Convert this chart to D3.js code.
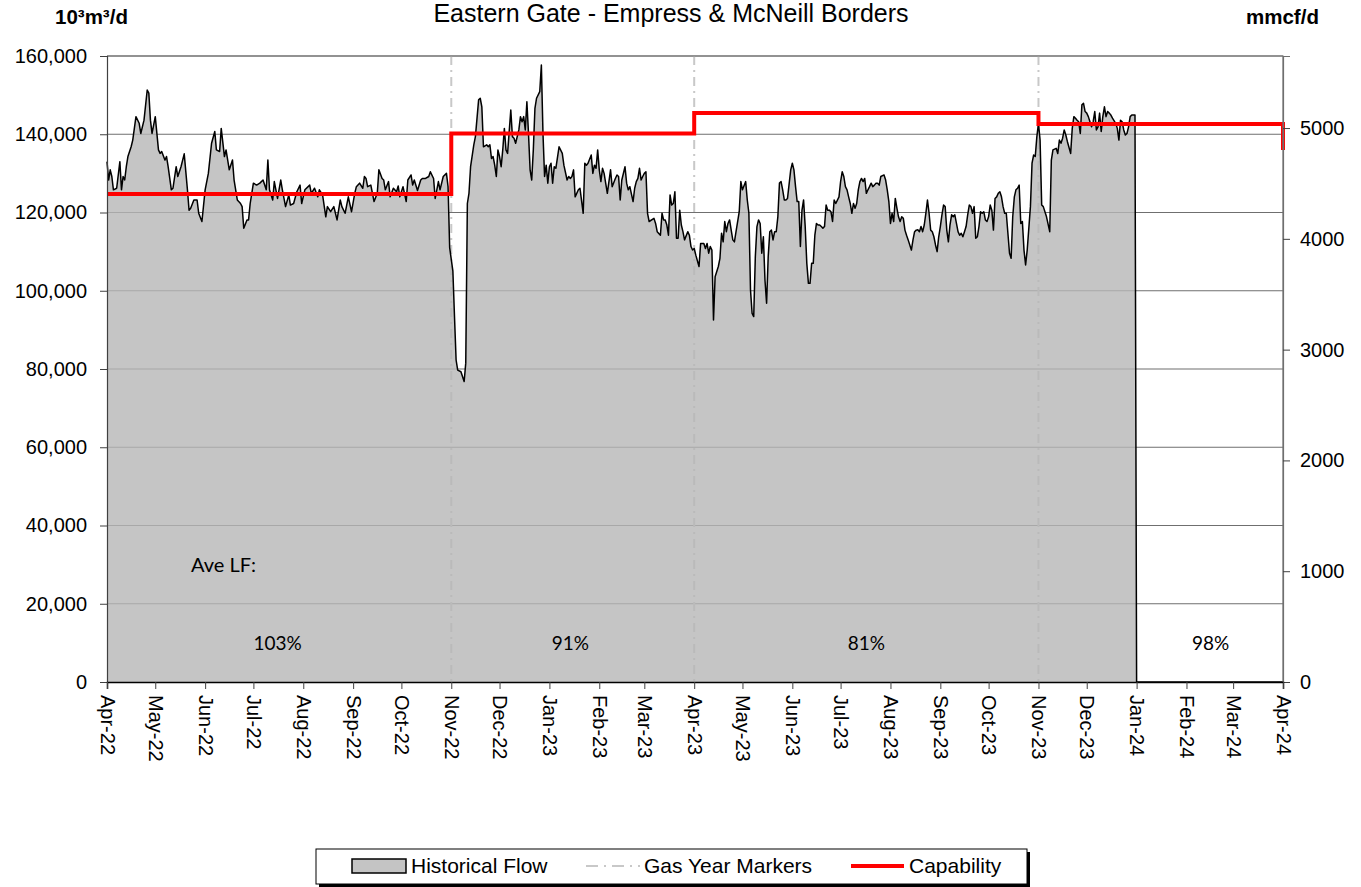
<!DOCTYPE html>
<html lang="en">
<head>
<meta charset="utf-8">
<title>Eastern Gate - Empress & McNeill Borders</title>
<script src="https://d3js.org/d3.v7.min.js"></script>
<style>
  body { margin: 0; background: #fff; }
  text { font-family: "Liberation Sans", Arial, sans-serif; }
</style>
</head>
<body>
<script>
// chart data
var startDate = "2022-04-01";   // day 0 of the flow series
var endDate = "2024-04-01";

// historical flow: [days since startDate, 10^3 m3/d]
var flow = [
  [0,133000],[1,128300],[2,130900],[3,129200],[4,125800],[6,126200],[8,133000],[9,125800],
  [10,129200],[11,128300],[12,131700],[13,134300],[15,136800],[16,138500],[18,144500],[20,142800],
  [21,140200],[23,143600],[25,151300],[26,150500],[27,143600],[28,140200],[30,144500],[32,136000],
  [33,135100],[34,135600],[36,133400],[37,134300],[38,131700],[40,125800],[41,126200],[43,131700],
  [44,129200],[46,131700],[48,135000],[50,125800],[51,120600],[52,121100],[54,123200],[56,123200],
  [57,119800],[59,117700],[61,125800],[63,130000],[65,137700],[67,140700],[68,136000],[70,135600],
  [71,141500],[73,134300],[74,136000],[76,130900],[78,133400],[79,128300],[81,123200],[83,122300],
  [84,121500],[85,116000],[87,118100],[88,118100],[89,122300],[91,127500],[93,127000],[95,127500],
  [97,128300],[99,125800],[100,133400],[101,125800],[103,123200],[104,127900],[106,123600],[108,128300],
  [109,125800],[111,121500],[113,124500],[114,121900],[116,122300],[118,125300],[120,127000],[121,122300],
  [123,125800],[126,127000],[127,124900],[129,126200],[131,124000],[132,125800],[134,124500],[136,118900],
  [137,121500],[139,120200],[141,121500],[142,119800],[143,118100],[145,123200],[146,121500],[148,119800],
  [150,124000],[152,120200],[154,124900],[155,126600],[157,127500],[159,126200],[160,129200],
  [161,128700],[162,126600],[164,127000],[166,122800],[168,124900],[169,130900],[171,128700],[172,128300],
  [173,125800],[175,127900],[176,124000],[178,126200],[180,125300],[181,126800],[182,124000],[184,126600],
  [186,122800],[187,128300],[189,129600],[190,127000],[191,128300],[193,125600],[195,128300],[196,128700],
  [198,128700],[200,129200],[201,130400],[203,128700],[204,123600],[206,127900],[207,125800],[209,129200],
  [211,130000],[212,126600],[213,111000],[215,105000],[216,93400],[217,82300],[218,79700],[220,79300],
  [222,76800],[223,81500],[224,122300],[225,124900],[226,131700],[228,137300],[229,139400],[231,148800],
  [232,149200],[233,147000],[234,136800],[236,137300],[237,136800],[238,137300],[239,133800],[240,134300],
  [241,132100],[242,129200],[243,136000],[244,134300],[245,131700],[246,136000],[247,141500],[248,136000],
  [249,135100],[251,146200],[252,139400],[253,139000],[254,137700],[256,141100],[257,144500],[258,143200],
  [259,144500],[260,141100],[261,148300],[262,140200],[263,130900],[264,128300],[265,136000],[266,146600],
  [267,149200],[269,150900],[270,157700],[271,140200],[272,129200],[273,132100],[274,127500],[275,131700],
  [276,132600],[277,127500],[278,131700],[279,131300],[281,136800],[283,135100],[284,132100],[286,128300],
  [287,129200],[288,128700],[289,129200],[290,130900],[291,124000],[293,125800],[294,126200],[296,119800],
  [297,132600],[298,132100],[299,132600],[301,134700],[302,130000],[303,132100],[304,131300],[305,136000],
  [306,130900],[307,127900],[308,131300],[309,130000],[311,124900],[312,127900],[313,130900],[314,126600],
  [316,128700],[317,129600],[318,129200],[319,123200],[320,128300],[322,131700],[323,127500],[324,125800],
  [325,126600],[327,122800],[328,126200],[329,127900],[330,128700],[331,131300],[332,128300],[333,129200],
  [334,130000],[335,130400],[336,119800],[337,117700],[340,118500],[341,117200],[342,115100],[344,114200],
  [345,119800],[346,118100],[347,118100],[348,116800],[349,114200],[350,124500],[351,121900],[352,122300],
  [353,125300],[354,113400],[355,113400],[356,120600],[357,116800],[358,115100],[359,113000],[361,115100],
  [362,114200],[363,111300],[364,110400],[365,110800],[366,109100],[368,106200],[369,112100],[370,112100],
  [371,112100],[372,110800],[373,112100],[374,109600],[375,111300],[376,110400],[377,92500],[378,103600],
  [380,106200],[381,108300],[382,114700],[383,112500],[384,117700],[385,115100],[386,117200],[387,118100],
  [388,115500],[389,113000],[390,112500],[391,115100],[393,120200],[394,127900],[395,125800],[397,127900],
  [398,123200],[399,119800],[400,100200],[401,94200],[402,93400],[403,108700],[404,116400],[405,118100],
  [406,117200],[407,109600],[408,113800],[409,102700],[410,96800],[411,108700],[412,115100],[413,115500],
  [414,113000],[415,115100],[416,115100],[417,118900],[418,127500],[419,127900],[420,125800],[421,123200],
  [422,123200],[423,123600],[425,130900],[426,132600],[427,130900],[428,126600],[429,122800],[430,122800],
  [431,111300],[432,120600],[433,123200],[434,116400],[435,107000],[436,101900],[437,101900],[438,107000],
  [439,107000],[440,114200],[441,117200],[442,116800],[443,116800],[444,116400],[445,116000],[446,116400],
  [447,121900],[448,120600],[449,120600],[450,120200],[451,117700],[452,123200],[453,122300],[455,124000],
  [456,127900],[457,130400],[458,129200],[459,126600],[460,125800],[461,124000],[462,122300],[463,119800],
  [464,122300],[465,121100],[466,122300],[467,125800],[468,127900],[469,128700],[470,127900],[471,128700],
  [472,124900],[473,125800],[474,126600],[475,127500],[476,126600],[477,127000],[478,127500],[479,127500],
  [480,127000],[481,129200],[483,129600],[484,128300],[485,125800],[486,122800],[487,117200],[488,119800],
  [489,117700],[490,123600],[491,121100],[492,118900],[493,117700],[494,118900],[495,118500],[496,115500],
  [497,114200],[498,113000],[500,110400],[501,113000],[502,115100],[503,115500],[504,115600],[505,115100],
  [506,116400],[507,115100],[508,116800],[509,119800],[510,123200],[511,119800],[512,115500],[513,115100],
  [514,113800],[515,111700],[516,110000],[517,113800],[518,116400],[519,119400],[520,121900],[521,121500],
  [522,115500],[523,112500],[524,116800],[525,119400],[526,118900],[527,119400],[529,115100],[530,114200],
  [531,114700],[532,113800],[533,115100],[534,116400],[535,119400],[536,121900],[537,121500],[538,119800],
  [539,121500],[540,113400],[541,113800],[542,116400],[543,120200],[544,119800],[545,120200],[546,118100],
  [547,117700],[548,118900],[549,121900],[550,120600],[551,115500],[552,123600],[553,124000],[554,124900],
  [555,125300],[556,124000],[557,121500],[558,119800],[559,119800],[561,109600],[562,108300],[563,118900],
  [564,124000],[565,125800],[566,126200],[567,127000],[568,117200],[569,117700],[570,110400],[571,106600],
  [572,110400],[574,121500],[575,132600],[576,134700],[577,134300],[578,139400],[579,142800],[580,138500],
  [581,121900],[582,121500],[584,118900],[586,115100],[587,133400],[588,136000],[590,136400],[591,135100],
  [592,138500],[593,137700],[594,139000],[595,141100],[596,139800],[597,138100],[599,135100],[600,141500],
  [601,144500],[602,144100],[603,143600],[604,143200],[605,140200],[606,147500],[607,147900],[608,145800],
  [609,145400],[610,144500],[611,143200],[612,141900],[613,143200],[614,145800],[615,141100],[616,141900],
  [617,145400],[618,140700],[619,144500],[620,147000],[621,144500],[622,145800],[623,145400],[624,144900],
  [625,144100],[627,142800],[628,141500],[629,138500],[630,143600],[631,143200],[632,141100],[633,139800],
  [634,140200],[635,141900],[636,144500],[637,144900],[638,144900],[639,144900],
  [640,0],[731,0]
];

// capability steps (10^3 m3/d), each holds until the next date
var capDates = ["2022-04-01", "2022-11-01", "2023-04-01", "2023-11-01", "2024-04-01"];
var capValues = [124700, 140200, 145400, 142600, 136000];

// gas year markers
var markerDates = ["2022-11-01", "2023-04-01", "2023-11-01"];

// average load factor labels
var lfDates = ["2022-07-16", "2023-01-14", "2023-07-17", "2024-02-16"];
var lfLabels = ["103%", "91%", "81%", "98%"];

var leftTicks = [0, 20000, 40000, 60000, 80000, 100000, 120000, 140000, 160000];
var rightTicks = [0, 1000, 2000, 3000, 4000, 5000];
var m3PerCf = 28.3168; // 10^3 m3 per mmcf

var width = 1361, height = 887;
var plotL = 107, plotR = 1283, plotT = 56, plotB = 682;

var parse = d3.utcParse("%Y-%m-%d");
var t0 = parse(startDate);

var x = d3.scaleUtc()
    .domain([t0, parse(endDate)])
    .range([plotL, plotR]);

var y = d3.scaleLinear()
    .domain([0, 160000])
    .range([plotB, plotT]);

var y2 = d3.scaleLinear()
    .domain([0, 160000 / m3PerCf])
    .range([plotB, plotT]);

var svg = d3.select("body").append("svg")
    .attr("width", width)
    .attr("height", height);

var flowData = flow.map(function(d) {
  return { date: d3.utcDay.offset(t0, d[0]), value: d[1] };
});

// gridlines (under the semi-opaque area so they look lighter inside it)
svg.append("g")
  .selectAll("line")
  .data(leftTicks.slice(1))
  .enter().append("line")
    .attr("x1", plotL).attr("x2", plotR)
    .attr("y1", function(d) { return y(d); })
    .attr("y2", function(d) { return y(d); })
    .attr("stroke", "#6f6f6f")
    .attr("stroke-width", 1.2);

// gas year markers
svg.append("g")
  .selectAll("line")
  .data(markerDates)
  .enter().append("line")
    .attr("x1", function(d) { return x(parse(d)); })
    .attr("x2", function(d) { return x(parse(d)); })
    .attr("y1", plotT).attr("y2", plotB)
    .attr("stroke", "#c8c8c8")
    .attr("stroke-width", 2)
    .attr("stroke-dasharray", "9,5,2,5");

var area = d3.area()
    .x(function(d) { return x(d.date); })
    .y0(y(0))
    .y1(function(d) { return y(d.value); });

svg.append("path")
    .datum(flowData)
    .attr("d", area)
    .attr("fill", "#b6b6b6")
    .attr("fill-opacity", 0.8);

var line = d3.line()
    .x(function(d) { return x(d.date); })
    .y(function(d) { return y(d.value); });

svg.append("path")
    .datum(flowData)
    .attr("d", line)
    .attr("fill", "none")
    .attr("stroke", "#000")
    .attr("stroke-width", 1.5)
    .attr("stroke-linejoin", "round");

// capability
var capData = capDates.map(function(d, i) { return { date: parse(d), value: capValues[i] }; });
svg.append("path")
    .datum(capData)
    .attr("d", d3.line()
        .curve(d3.curveStepAfter)
        .x(function(d) { return x(d.date); })
        .y(function(d) { return y(d.value); }))
    .attr("fill", "none")
    .attr("stroke", "#ff0000")
    .attr("stroke-width", 4);

// plot frame: top and right edges
svg.append("path")
    .attr("d", "M" + plotL + "," + plotT + "H" + plotR + "V" + plotB)
    .attr("fill", "none")
    .attr("stroke", "#6f6f6f")
    .attr("stroke-width", 1.2);

// axes
var yAxis = svg.append("g")
    .attr("transform", "translate(" + plotL + ",0)")
    .call(d3.axisLeft(y).tickValues(leftTicks).tickFormat(d3.format(",")).tickSize(7).tickPadding(13));

var y2Axis = svg.append("g")
    .attr("transform", "translate(" + plotR + ",0)")
    .call(d3.axisRight(y2).tickValues(rightTicks).tickFormat(d3.format("d")).tickSize(7).tickPadding(10));

var xAxis = svg.append("g")
    .attr("transform", "translate(0," + plotB + ")")
    .call(d3.axisBottom(x).ticks(d3.utcMonth.every(1)).tickFormat(d3.utcFormat("%b-%y")).tickSize(7));

xAxis.selectAll("text")
    .attr("x", 13)
    .attr("y", 0)
    .attr("dy", "0.35em")
    .attr("transform", "rotate(90)")
    .style("text-anchor", "start");

[yAxis, y2Axis, xAxis].forEach(function(g) {
  g.selectAll("text").attr("font-size", 20).attr("font-family", "Liberation Sans, Arial, sans-serif").attr("fill", "#000");
  g.selectAll("line").attr("stroke", "#404040");
});
yAxis.select(".domain").attr("stroke", "#404040").attr("stroke-width", 1.2);
y2Axis.select(".domain").attr("stroke", "#6f6f6f").attr("stroke-width", 1.2);
xAxis.select(".domain").attr("stroke", "#000").attr("stroke-width", 1.5);

// titles
svg.append("text")
    .attr("x", 671).attr("y", 22)
    .attr("text-anchor", "middle")
    .attr("font-size", 25)
    .text("Eastern Gate - Empress & McNeill Borders");

svg.append("text")
    .attr("x", 55).attr("y", 24)
    .attr("font-size", 20.5)
    .attr("font-weight", "bold")
    .text("10³m³/d");

svg.append("text")
    .attr("x", 1246).attr("y", 24)
    .attr("font-size", 20.5)
    .attr("font-weight", "bold")
    .text("mmcf/d");

// load factor labels
svg.append("text")
    .attr("x", 191).attr("y", 572)
    .attr("font-size", 20)
    .style("font-family", "Lato, 'Open Sans', sans-serif")
    .text("Ave LF:");

svg.append("g")
  .selectAll("text")
  .data(lfLabels)
  .enter().append("text")
    .attr("x", function(d, i) { return x(parse(lfDates[i])); })
    .attr("y", 650)
    .attr("text-anchor", "middle")
    .attr("font-size", 19)
    .style("font-family", "Lato, 'Open Sans', sans-serif")
    .text(function(d) { return d; });

// legend
var legend = svg.append("g");
legend.append("rect")
    .attr("x", 319).attr("y", 852).attr("width", 711).attr("height", 35)
    .attr("fill", "#000");
legend.append("rect")
    .attr("x", 316).attr("y", 849).attr("width", 711).attr("height", 35)
    .attr("fill", "#fff").attr("stroke", "#000").attr("stroke-width", 1);
legend.append("rect")
    .attr("x", 352).attr("y", 859).attr("width", 54).attr("height", 14)
    .attr("fill", "#c4c4c4").attr("stroke", "#000").attr("stroke-width", 1.5);
legend.append("line")
    .attr("x1", 586).attr("x2", 640).attr("y1", 866).attr("y2", 866)
    .attr("stroke", "#c8c8c8").attr("stroke-width", 2).attr("stroke-dasharray", "12,6,2,6");
legend.append("line")
    .attr("x1", 851).attr("x2", 904).attr("y1", 866).attr("y2", 866)
    .attr("stroke", "#ff0000").attr("stroke-width", 4);

var legendLabels = ["Historical Flow", "Gas Year Markers", "Capability"];
var legendX = [411, 644, 909];
legend.selectAll("text.lbl")
  .data(legendLabels)
  .enter().append("text")
    .attr("class", "lbl")
    .attr("x", function(d, i) { return legendX[i]; })
    .attr("y", 873)
    .attr("font-size", 21)
    .text(function(d) { return d; });
</script>
</body>
</html>
